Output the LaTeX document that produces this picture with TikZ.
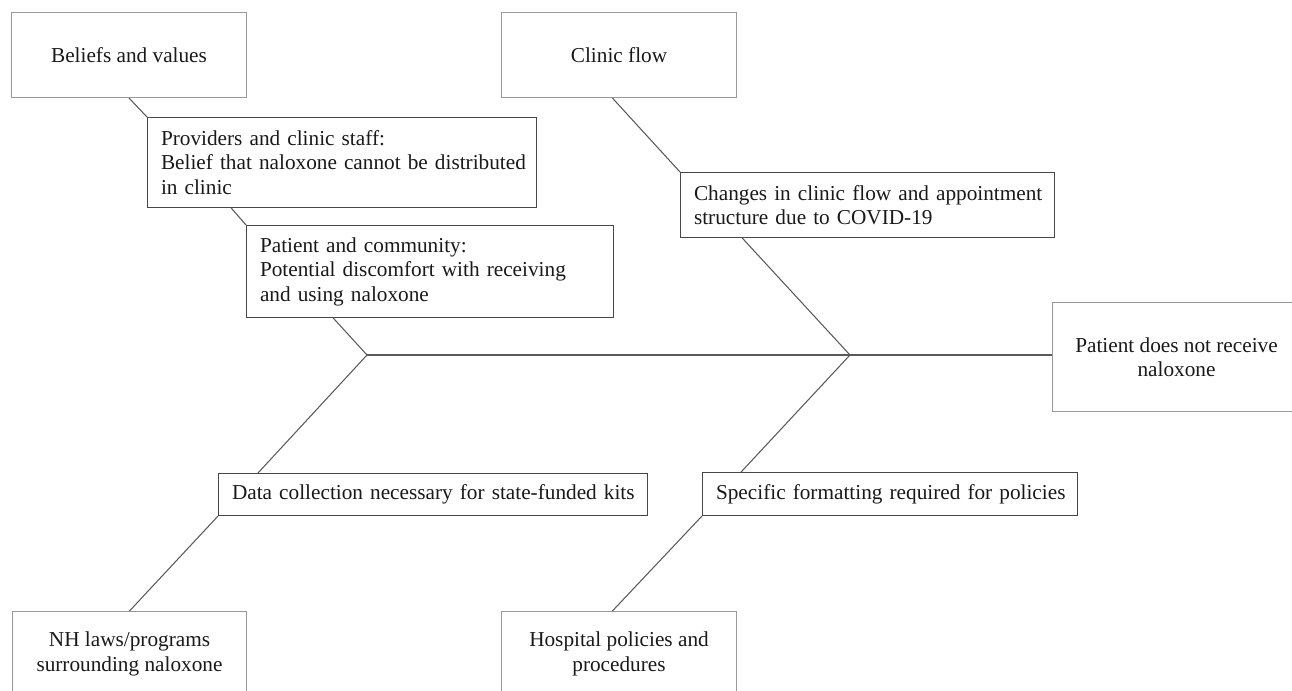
\documentclass[tikz,border=0pt]{standalone}
\usepackage{fontspec}
\setmainfont{Liberation Serif}
\usetikzlibrary{calc}
\tikzset{
	cause/.style={draw=black!40, line width=0.6pt, inner sep=0pt, minimum width=4.7cm, minimum height=1.7cm, align=center, anchor=north west, text=black!90, font=\boxfont},
	factor/.style={draw=black!72, line width=0.6pt, inner xsep=0.27cm, inner ysep=0pt, align=left, anchor=north west, text=black!90, font=\boxfont},
	bone/.style={draw=black!65, line width=0.6pt}
}
\newcommand{\boxfont}{\fontsize{12.1}{13.9}\selectfont}

\begin{document}
\begin{tikzpicture}[x=0.02cm, y=-0.02cm]
		%%%%% START %%%%%
		\useasboundingbox (0, 0) rectangle (1292, 690);
		
		\node[cause] (bel) at (11, 12) {Beliefs and values};
		\node[cause] (flow) at (501, 12) {Clinic flow};
		\node[cause, minimum width=4.68cm] (nh) at (12, 611) {NH laws/programs\\surrounding naloxone};
		\node[cause] (hosp) at (501, 611) {Hospital policies and\\procedures};
		\node[cause, minimum width=4.96cm, minimum height=2.18cm] (eff) at (1052, 302) {Patient does not receive\\naloxone};
		
		\node[factor, text width=7.24cm, minimum height=1.8cm] (prov) at (147, 117) {\mbox{Providers and clinic staff:}\\\mbox{Belief that naloxone cannot be distributed}\\\mbox{in clinic}};
		\node[factor, text width=6.80cm, minimum height=1.84cm] (pat) at (246, 225) {\mbox{Patient and community:}\\\mbox{Potential discomfort with receiving}\\\mbox{and using naloxone}};
		\node[factor, text width=6.94cm, minimum height=1.3cm] (chg) at (680, 172) {\mbox{Changes in clinic flow and appointment}\\\mbox{structure due to COVID-19}};
		\node[factor, text width=8.04cm, minimum height=0.84cm] (data) at (218, 473) {\mbox{Data collection necessary for state-funded kits}};
		\node[factor, text width=6.96cm, minimum height=0.86cm] (spec) at (702, 472) {\mbox{Specific formatting required for policies}};
		
		\coordinate (j1) at (367, 355);
		\coordinate (j2) at (850, 355);
		
		% spine
		\draw[bone] (j1) -- (eff.west |- j1);
		
		% upper bones
		\draw[bone] (bel.south) -- (prov.north west);
		\draw[bone] ($(prov.south west)!0.216!(prov.south east)$) -- (pat.north west);
		\draw[bone] ($(pat.south west)!0.237!(pat.south east)$) -- (j1);
		\draw[bone] ($(flow.south west)!0.472!(flow.south east)$) -- (chg.north west);
		\draw[bone] ($(chg.south west)!0.166!(chg.south east)$) -- (j2);
		
		% lower bones
		\draw[bone] (j1) -- ($(data.north west)!0.093!(data.north east)$);
		\draw[bone] (data.south west) -- (nh.north);
		\draw[bone] (j2) -- ($(spec.north west)!0.104!(spec.north east)$);
		\draw[bone] (spec.south west) -- ($(hosp.north west)!0.472!(hosp.north east)$);
		
		%%%%% END %%%%%
	\end{tikzpicture}
\end{document}
